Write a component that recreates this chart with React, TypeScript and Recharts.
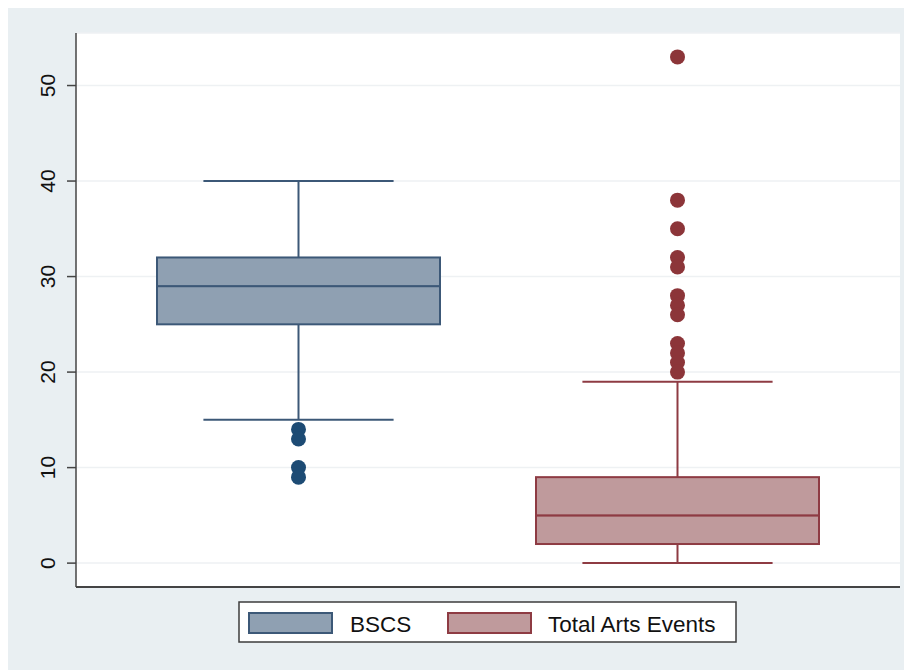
import { ComposedChart, Bar, Scatter, XAxis, YAxis, CartesianGrid, Legend } from 'recharts';

const categories = ['BSCS', 'Total Arts Events'];
const lowerWhisker = [15, 0];
const q1 = [25, 2];
const median = [29, 5];
const q3 = [32, 9];
const upperWhisker = [40, 19];
const bscsOutliers = [14, 13, 10, 9];
const artsOutliers = [53, 38, 35, 32, 31, 28, 27, 26, 23, 22, 21, 20];
const yTicks = [0, 10, 20, 30, 40, 50];

const strokes = ['#3c5877', '#8e3b43'];
const fills = ['#8fa0b2', '#bf9a9c'];
const dotColors = ['#1d4b74', '#8c3539'];
const font = '"Liberation Sans", Arial, sans-serif';

// stacked pieces: invisible base, lower whisker, lower half box, upper half box, upper whisker
const boxData = categories.map((name, i) => ({
  name,
  base: lowerWhisker[i],
  lowWhisker: q1[i] - lowerWhisker[i],
  lowBox: median[i] - q1[i],
  highBox: q3[i] - median[i],
  highWhisker: upperWhisker[i] - q3[i],
}));

const outlierData = [
  ...bscsOutliers.map((v) => ({ group: 1, value: v })),
  ...artsOutliers.map((v) => ({ group: 2, value: v })),
];

const idx = (p: any) => {
  const i = categories.indexOf(p?.payload?.name);
  return i >= 0 ? i : p.index ?? 0;
};

const Whisker = (cap: 'top' | 'bottom') => (p: any) => {
  const i = idx(p);
  const cx = p.x + p.width / 2;
  const half = p.width * 0.336;
  const capY = cap === 'top' ? p.y : p.y + p.height;
  return (
    <g stroke={strokes[i]} strokeWidth={2}>
      <line x1={cx} x2={cx} y1={p.y} y2={p.y + p.height} />
      <line x1={cx - half} x2={cx + half} y1={capY} y2={capY} />
    </g>
  );
};

const BoxPart = (p: any) => {
  const i = idx(p);
  return (
    <rect x={p.x} y={p.y} width={p.width} height={p.height} fill={fills[i]} stroke={strokes[i]} strokeWidth={2} />
  );
};

const YTick = (p: any) => {
  const x = p.x - 10;
  return (
    <text
      x={x}
      y={p.y}
      transform={`rotate(-90, ${x}, ${p.y})`}
      textAnchor="middle"
      fontSize={21}
      fontFamily={font}
      fill="#111"
    >
      {p.payload.value}
    </text>
  );
};

const LegendBox = () => (
  <svg width={499} height={42} style={{ display: 'block' }}>
    <rect x={1} y={1} width={497} height={40} fill="#fff" stroke="#3d3d3d" strokeWidth={1.5} />
    <rect x={11} y={12} width={83} height={20} fill={fills[0]} stroke={strokes[0]} strokeWidth={2} />
    <text x={112} y={31} fontSize={22.5} fontFamily={font} fill="#111">{categories[0]}</text>
    <rect x={210} y={12} width={83} height={20} fill={fills[1]} stroke={strokes[1]} strokeWidth={2} />
    <text x={310} y={31} fontSize={22.5} fontFamily={font} fill="#111">{categories[1]}</text>
  </svg>
);

export default function App() {
  return (
    <div style={{ width: 904, height: 662, background: '#e9eff2' }}>
      <ComposedChart
        width={904}
        height={662}
        data={boxData}
        margin={{ top: 25, right: 12, bottom: 82, left: 0 }}
        barCategoryGap={48}
      >
        <CartesianGrid vertical={false} stroke="#eef1f3" strokeWidth={1.5} fill="#ffffff" />
        <XAxis
          dataKey="name"
          type="category"
          padding={{ left: 33, right: 33 }}
          tick={false}
          tickLine={false}
          height={1}
          axisLine={{ stroke: '#444', strokeWidth: 2 }}
        />
        <XAxis xAxisId="num" type="number" dataKey="group" domain={[0.5, 2.5]} hide padding={{ left: 33, right: 33 }} />
        <YAxis
          type="number"
          domain={[-2.5, 55.5]}
          ticks={yTicks}
          interval={0}
          width={68}
          tickSize={9}
          tickMargin={2}
          tick={<YTick />}
          axisLine={{ stroke: '#444', strokeWidth: 1.5 }}
          tickLine={{ stroke: '#444', strokeWidth: 1.5 }}
          allowDataOverflow
        />
        <Bar dataKey="base" stackId="box" fill="transparent" shape={() => <g />} isAnimationActive={false} />
        <Bar dataKey="lowWhisker" stackId="box" shape={Whisker('bottom')} isAnimationActive={false} />
        <Bar dataKey="lowBox" stackId="box" shape={BoxPart} isAnimationActive={false} />
        <Bar dataKey="highBox" stackId="box" shape={BoxPart} isAnimationActive={false} />
        <Bar dataKey="highWhisker" stackId="box" shape={Whisker('top')} isAnimationActive={false} />
        <Scatter
          data={outlierData}
          xAxisId="num"
          dataKey="value"
          isAnimationActive={false}
          shape={(p: any) => <circle cx={p.cx} cy={p.cy} r={7.5} fill={dotColors[p.payload.group - 1]} />}
        />
        <Legend
          layout="horizontal"
          verticalAlign="middle"
          align="center"
          wrapperStyle={{ left: 230, top: 593, width: 499, height: 42 }}
          content={() => <LegendBox />}
        />
      </ComposedChart>
    </div>
  );
}
